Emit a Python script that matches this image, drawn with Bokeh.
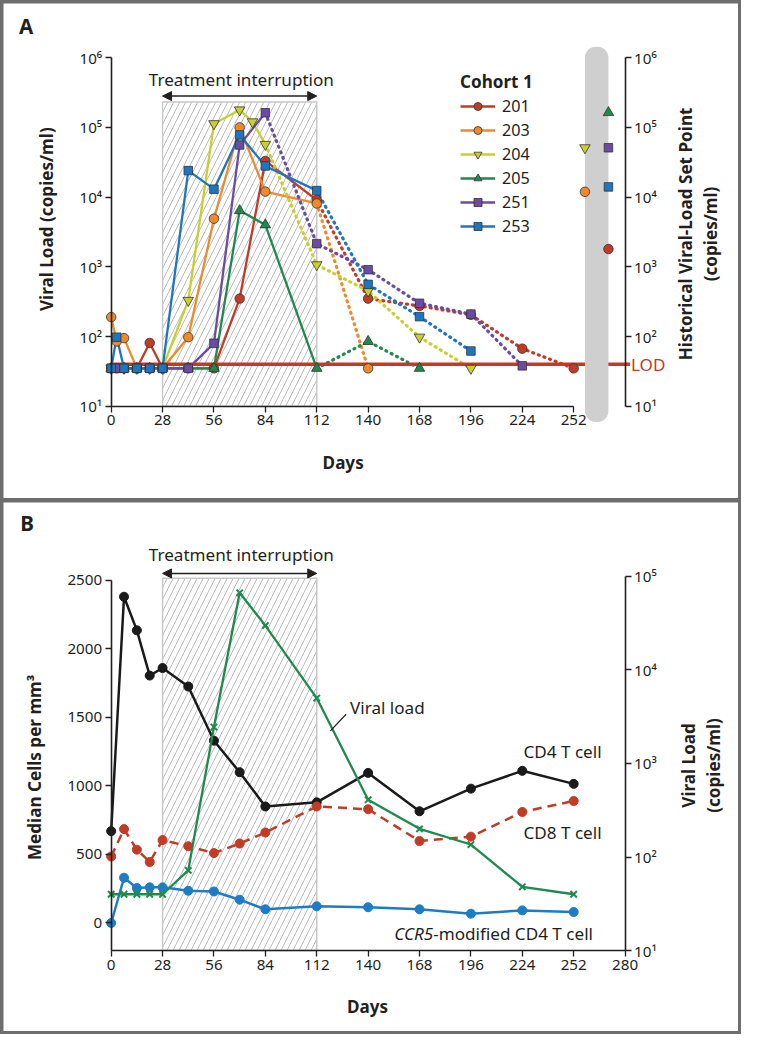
import math
from bokeh.plotting import figure
from bokeh.models import (Range1d, LogAxis, LogScale, FixedTicker, Label, Arrow,
                          NormalHead, Legend, LegendItem)
from bokeh.layouts import column
from bokeh.embed import file_html
from bokeh.resources import INLINE

# ---------------- data: panel A (viral load per participant, copies/ml) ----------------
treat_start, treat_end = 28, 112
LOD = 40
cohort_ids = ["201", "203", "204", "205", "251", "253"]

days_201 = [0, 3, 7, 14, 21, 28, 42, 56, 70, 84, 112, 140, 168, 196, 224, 252]
vl_201 = [35, 35, 35, 35, 81, 35, 35, 35, 350, 33000, 9100, 350, 275, 205, 67, 35]
days_203 = [0, 3, 7, 14, 21, 28, 42, 56, 70, 84, 112, 140]
vl_203 = [190, 85, 95, 35, 35, 35, 98, 4900, 100000, 12000, 8100, 35]
days_204 = [0, 7, 14, 21, 28, 42, 56, 70, 77, 84, 112, 140, 168, 196]
vl_204 = [35, 35, 35, 35, 35, 330, 113000, 178000, 120000, 57000, 1070, 450, 98, 35]
days_205 = [0, 7, 14, 21, 28, 42, 56, 70, 84, 112, 140, 168]
vl_205 = [35, 35, 35, 35, 35, 35, 35, 6400, 4000, 35, 85, 35]
days_251 = [0, 3, 7, 14, 21, 28, 42, 56, 70, 84, 112, 140, 168, 196, 224]
vl_251 = [35, 35, 35, 35, 35, 35, 35, 80, 56000, 162000, 2150, 910, 300, 210, 38]
days_253 = [0, 3, 7, 14, 21, 28, 42, 56, 70, 84, 112, 140, 168, 196]
vl_253 = [35, 98, 35, 35, 35, 35, 24000, 13000, 78000, 28000, 12400, 560, 193, 62]
last_solid_day = [112, 112, 84, 112, 84, 112]
set_point = [1800, 11900, 51000, 163000, 51000, 14000]

# ---------------- data: panel B (medians) ----------------
days_b = [0, 7, 14, 21, 28, 42, 56, 70, 84, 112, 140, 168, 196, 224, 252]
cd4 = [670, 2380, 2135, 1805, 1860, 1725, 1330, 1100, 850, 880, 1095, 815, 980, 1110, 1015]
cd8 = [485, 685, 535, 445, 605, 560, 510, 580, 660, 850, 830, 598, 630, 810, 890]
ccr5 = [0, 330, 255, 260, 260, 235, 230, 170, 100, 122, 115, 100, 68, 92, 80]
vl_b = [40, 40, 40, 40, 40, 72, 2450, 66700, 29800, 5000, 410, 200, 136, 48, 40]

# ---------------- styles ----------------
FONT = "Noto Sans"
INK = "#231f20"
RED = "#c23b26"
SX = 741 / 757
SY = 1034 / 1050
colors = ["#c23b26", "#ee8a2b", "#c9cf2d", "#1e8a4b", "#6a4ba6", "#1d77c0"]
markers = ["circle", "circle", "inverted_triangle", "triangle", "square", "square"]
msizes = [9.5, 9.5, 10.5, 10.5, 8.5, 8.5]
SUP = {1: "\u00b9", 2: "\u00b2", 3: "\u00b3", 4: "\u2074", 5: "\u2075", 6: "\u2076"}


def fs(px):
    return f"{px * SX:.1f}px"


def log_labels(kmax):
    return {10 ** k: "10" + SUP[k] for k in range(1, kmax + 1)}


def style_axis(ax, ticks, bounds, loc, overrides=None):
    ax.ticker = FixedTicker(ticks=ticks)
    ax.bounds = bounds
    ax.fixed_location = loc
    ax.minor_tick_line_color = None
    ax.major_tick_in = 0
    ax.major_tick_out = 6
    ax.major_tick_line_width = 1.3
    ax.major_tick_line_color = INK
    ax.axis_line_width = 1.6
    ax.axis_line_color = INK
    ax.major_label_text_font = FONT
    ax.major_label_text_font_size = fs(15.5)
    ax.major_label_text_color = INK
    ax.major_label_standoff = 3
    if overrides:
        ax.major_label_overrides = overrides


def lab(p, x, y, text, size, style="normal", align="center", angle=0.0, color=INK):
    p.add_layout(Label(x=x, y=y, text=text, text_font=FONT, text_font_size=fs(size),
                       text_font_style=style, text_align=align, text_baseline="middle",
                       angle=angle, text_color=color))


def arrow(p, y):
    p.add_layout(Arrow(start=NormalHead(size=9, fill_color=INK, line_color=INK),
                       end=NormalHead(size=9, fill_color=INK, line_color=INK),
                       x_start=treat_start, x_end=treat_end, y_start=y, y_end=y,
                       line_width=1.5, line_color=INK))


def base_figure(w, h, xr, yr, margin, ylog=False):
    p = figure(width=w, height=h, output_backend="svg", toolbar_location=None,
               x_range=xr, y_range=yr, y_axis_type="log" if ylog else "linear",
               min_border=0, min_border_left=0, min_border_right=0, min_border_top=0,
               min_border_bottom=0, outline_line_color=None, background_fill_color="white",
               border_fill_color="white", margin=margin)
    p.grid.visible = False
    return p


# ================= panel A =================
A_X0, A_X1 = 113, 638          # reference px of day 0 and day 280
A_Y10, A_DEC = 412, (412 - 58) / 5
A_ORIG = 3


def ax_(px):
    return (px - A_X0) * 280 / (A_X1 - A_X0)


def ay_(py):
    return 10 ** (1 + (A_Y10 - py) / A_DEC)


WA, HA = 735, 495
pA = base_figure(WA, HA, Range1d(ax_(3), ax_(3 + WA / SX)),
                 Range1d(ay_(A_ORIG + HA / SY), ay_(A_ORIG)), (3, 3, 0, 3), ylog=True)
style_axis(pA.xaxis[0], list(range(0, 253, 28)), (0, 252), 10)
style_axis(pA.yaxis[0], [10 ** k for k in range(1, 7)], (10, 1e6), 0, log_labels(6))
ra = LogAxis()
style_axis(ra, [10 ** k for k in range(1, 7)], (10, 1e6), 280, log_labels(6))
pA.add_layout(ra, "right")

pA.quad(left=treat_start, right=treat_end, bottom=10, top=ay_(103), fill_color="white",
        line_color="#c8c8c8", line_width=1.5, hatch_pattern="/", hatch_color="#bdbdbd",
        hatch_scale=12, hatch_weight=1)
arrow(pA, ay_(97))
lab(pA, ax_(246), ay_(80), "Treatment interruption", 17.5)

all_days = [days_201, days_203, days_204, days_205, days_251, days_253]
all_vl = [vl_201, vl_203, vl_204, vl_205, vl_251, vl_253]
solid_lines = []
for d, v, c, ls in zip(all_days, all_vl, colors, last_solid_day):
    k = d.index(ls)
    solid_lines.append(pA.line(d[:k + 1], v[:k + 1], line_color=c, line_width=2.3))
    pA.line(d[k:], v[k:], line_color=c, line_width=3.2, line_dash="1 5", line_cap="round")

pA.line([0, ax_(643)], [LOD, LOD], line_color=RED, line_width=3.5)

scat = []
for d, v, c, m, s in zip(all_days, all_vl, colors, markers, msizes):
    scat.append(pA.scatter(d, v, marker=m, size=s, fill_color=c, line_color="#333333",
                           line_width=0.8))

# historical set points beside the grey bar
bar_left, bar_right = ax_(597), ax_(621)
pA.quad(left=bar_left, right=bar_right, bottom=ay_(428), top=ay_(47), fill_color="#cfcfcf",
        line_color=None, border_radius=11)
hist_x = [bar_left if cid in ("203", "204") else bar_right for cid in cohort_ids]
for x, v, c, m, s in zip(hist_x, set_point, colors, markers, msizes):
    pA.scatter([x], [v], marker=m, size=s, fill_color=c, line_color="#333333", line_width=0.8)

lab(pA, ax_(644), LOD, "LOD", 17.5, align="left", color=RED)
lab(pA, ax_(26), ay_(26), "A", 21, style="bold")
lab(pA, ax_(47), ay_(222), "Viral Load (copies/ml)", 17.5, style="bold", angle=math.pi / 2)
lab(pA, ax_(700), ay_(237), "Historical Viral-Load Set Point", 17.5, style="bold",
    angle=math.pi / 2)
lab(pA, ax_(725), ay_(237), "(copies/ml)", 17.5, style="bold", angle=math.pi / 2)
lab(pA, ax_(350), ay_(469), "Days", 17.5, style="bold")

items = [LegendItem(label=cid, renderers=[l, s]) for cid, l, s in zip(cohort_ids, solid_lines, scat)]
legend = Legend(items=items, title="Cohort 1", location=(457, 261),
                title_text_font=FONT, title_text_font_size=fs(17.5), title_text_font_style="bold",
                title_text_color=INK, title_standoff=2,
                label_text_font=FONT, label_text_font_size=fs(16.5), label_text_color=INK,
                glyph_width=35, glyph_height=20, label_height=20, label_standoff=7, spacing=2,
                padding=0, margin=0, border_line_color=None, background_fill_alpha=0)
pA.add_layout(legend)

# ================= panel B =================
B_X0, B_X1 = 113, 638
B_Y0PX, B_Y2500PX, B_BOT, B_VDEC = 937, 589, 965, 95
B_K = (B_Y0PX - B_Y2500PX) / 2500
B_ORIG = 510


def bx_(px):
    return (px - B_X0) * 280 / (B_X1 - B_X0)


def by_(py):
    return (B_Y0PX - py) / B_K


def bv_(py):
    return 10 ** (1 + (B_BOT - py) / B_VDEC)


WB, HB = 735, 529
pB = base_figure(WB, HB, Range1d(bx_(3), bx_(3 + WB / SX)),
                 Range1d(by_(B_ORIG + HB / SY), by_(B_ORIG)), (4, 3, 3, 3))
pB.extra_y_ranges = {"vl": Range1d(bv_(B_ORIG + HB / SY), bv_(B_ORIG))}
pB.extra_y_scales = {"vl": LogScale()}
style_axis(pB.xaxis[0], list(range(0, 281, 28)), (0, 280), by_(B_BOT))
style_axis(pB.yaxis[0], list(range(0, 2501, 500)), (by_(B_BOT), 2500), 0)
rb = LogAxis(y_range_name="vl")
style_axis(rb, [10 ** k for k in range(1, 6)], (10, 1e5), 280, log_labels(5))
pB.add_layout(rb, "right")

pB.quad(left=treat_start, right=treat_end, bottom=by_(B_BOT), top=by_(587), fill_color="white",
        line_color="#c8c8c8", line_width=1.5, hatch_pattern="/", hatch_color="#bdbdbd",
        hatch_scale=12, hatch_weight=1)
arrow(pB, by_(582))
lab(pB, bx_(246), by_(563), "Treatment interruption", 17.5)

pB.line(days_b, cd4, line_color="#1a1a1a", line_width=2.5)
pB.scatter(days_b, cd4, size=9, color="#1a1a1a")
pB.line(days_b, cd8, line_color=RED, line_width=2.5, line_dash="9 6")
pB.scatter(days_b, cd8, size=9, color=RED)
pB.line(days_b, ccr5, line_color="#1d7cc4", line_width=2.5)
pB.scatter(days_b, ccr5, size=9, color="#1d7cc4")
pB.line(days_b, vl_b, y_range_name="vl", line_color="#1e8a4b", line_width=2.3)
pB.scatter(days_b, vl_b, y_range_name="vl", marker="x", size=9, line_color="#1e8a4b",
           line_width=2)

pB.line([bx_(353), bx_(337)], [by_(725), by_(742)], line_color=INK, line_width=1.2)
lab(pB, bx_(357), by_(718), "Viral load", 17.5, align="left")
lab(pB, bx_(614), by_(763), "CD4 T cell", 17.5, align="right")
lab(pB, bx_(614), by_(845), "CD8 T cell", 17.5, align="right")
lab(pB, bx_(442), by_(948), "CCR5", 17.5, style="italic", align="right")
lab(pB, bx_(442), by_(948), "-modified CD4 T cell", 17.5, align="left")
lab(pB, bx_(27), by_(531), "B", 21, style="bold")
lab(pB, bx_(35), by_(779), "Median Cells per mm\u00b3", 17.5, style="bold", angle=math.pi / 2)
lab(pB, bx_(703), by_(777), "Viral Load", 17.5, style="bold", angle=math.pi / 2)
lab(pB, bx_(728), by_(777), "(copies/ml)", 17.5, style="bold", angle=math.pi / 2)
lab(pB, bx_(375), by_(1022), "Days", 17.5, style="bold")

layout = column(pA, pB, spacing=0, styles={"background-color": "#6e6e6e"})
open("out.html", "w").write(file_html(layout, INLINE))
